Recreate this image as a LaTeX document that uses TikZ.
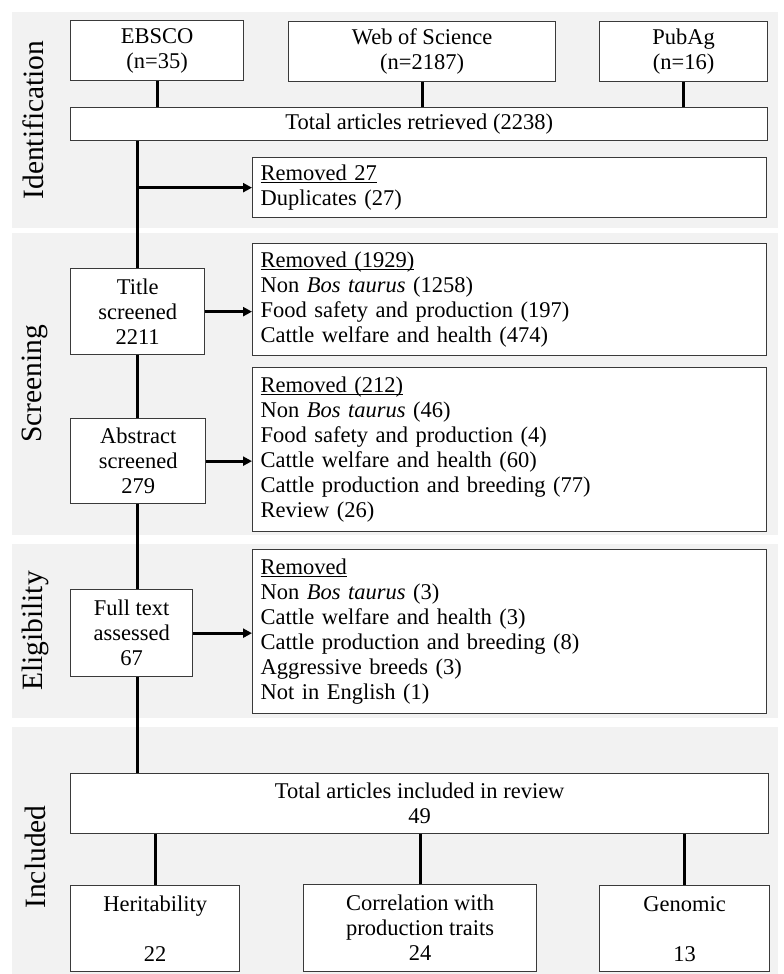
\documentclass[tikz,border=0pt]{standalone}
\usepackage{fontspec}
\setmainfont{Liberation Serif}
\usepackage{tikz}
\usetikzlibrary{arrows.meta}
\definecolor{bandgray}{HTML}{F2F2F2}
\definecolor{boxline}{HTML}{3A3A3A}
\newcommand{\rmhead}[1]{\underline{\raisebox{0pt}[\height][0pt]{#1}}}

\begin{document}
\begin{tikzpicture}[
  x=1pt, y=-1pt,
  font=\fontsize{22.5}{25}\selectfont,
  box/.style={draw=boxline, line width=1.3pt, fill=white, align=center, anchor=north west, inner sep=0pt},
  rmbox/.style={draw=boxline, line width=1.3pt, fill=white, align=left, anchor=north west, inner xsep=8pt, inner ysep=0pt, text width=498pt},
  band/.style={fill=bandgray, draw=none},
  phase/.style={rotate=90, font=\fontsize{29.5}{32}\selectfont},
  link/.style={line width=3pt},
  arr/.style={-{Triangle[length=9pt,width=9pt]}, line width=3pt}
]
\useasboundingbox (0,0) rectangle (784,974);

% phase bands
\fill[band] (12,12) rectangle (778,228);
\fill[band] (12,233) rectangle (778,535);
\fill[band] (12,544) rectangle (778,718);
\fill[band] (12,727) rectangle (778,974);
\node[phase] (idlab) at (33,120) {Identification};
\node[phase] (sclab) at (35,384) {Screening};
\node[phase] (ellab) at (35,631) {Eligibility};
\node[phase] (inlab) at (35,857) {Included};

% identification
\node[box, minimum width=173pt, minimum height=60pt] (ebsco) at (70,20) {EBSCO\\(n=35)};
\node[box, minimum width=267pt, minimum height=60pt] (wos) at (288,21) {Web of Science\\(n=2187)};
\node[box, minimum width=168pt, minimum height=60pt] (pubag) at (599,21) {PubAg\\(n=16)};
\node[box, minimum width=697pt, minimum height=33pt] (tot) at (70,107) {Total articles retrieved (2238)};
\node[rmbox, minimum height=60pt] (rm1) at (252,157) {\rmhead{Removed 27}\\Duplicates (27)};

% screening
\node[box, minimum width=134pt, minimum height=86pt] (title) at (70,268) {Title\\screened\\2211};
\node[rmbox, minimum height=112pt] (rm2) at (252,243) {\rmhead{Removed (1929)}\\Non \textit{Bos taurus} (1258)\\Food safety and production (197)\\Cattle welfare and health (474)};
\node[box, minimum width=135pt, minimum height=85pt] (abstract) at (70,418) {Abstract\\screened\\279};
\node[rmbox, minimum height=164pt] (rm3) at (252,367) {\rmhead{Removed (212)}\\Non \textit{Bos taurus} (46)\\Food safety and production (4)\\Cattle welfare and health (60)\\Cattle production and breeding (77)\\Review (26)};

% eligibility
\node[box, minimum width=122pt, minimum height=87pt] (full) at (70,589) {Full text\\assessed\\67};
\node[rmbox, minimum height=164pt] (rm4) at (252,549) {\rmhead{Removed}\\Non \textit{Bos taurus} (3)\\Cattle welfare and health (3)\\Cattle production and breeding (8)\\Aggressive breeds (3)\\Not in English (1)};

% included
\node[box, minimum width=698pt, minimum height=60pt] (incl) at (70,773) {Total articles included in review\\49};
\node[box, minimum width=169pt, minimum height=86pt] (herit) at (70,885) {Heritability\\[25pt]22};
\node[box, minimum width=233pt, minimum height=87pt] (corr) at (303,884) {Correlation with\\production traits\\24};
\node[box, minimum width=170pt, minimum height=86pt] (genomic) at (599,885) {Genomic\\[25pt]13};

% connectors
\draw[link] (ebsco.south) -- (ebsco.south |- tot.north);
\draw[link] (wos.south) -- (wos.south |- tot.north);
\draw[link] (pubag.south) -- (pubag.south |- tot.north);
\draw[link] (title.north |- tot.south) -- (title.north);
\draw[arr] (title.north |- rm1.west) -- (rm1.west);
\draw[link] (title.south) -- (title.south |- abstract.north);
\draw[link] (title.south |- abstract.south) -- (title.south |- full.north);
\draw[link] (title.south |- full.south) -- (title.south |- incl.north);
\draw[arr] (title.east) -- (title.east -| rm2.west);
\draw[arr] (abstract.east) -- (abstract.east -| rm3.west);
\draw[arr] (full.east) -- (full.east -| rm4.west);
\draw[link] (herit.north) -- (herit.north |- incl.south);
\draw[link] (corr.north) -- (corr.north |- incl.south);
\draw[link] (genomic.north) -- (genomic.north |- incl.south);
\end{tikzpicture}
\end{document}
